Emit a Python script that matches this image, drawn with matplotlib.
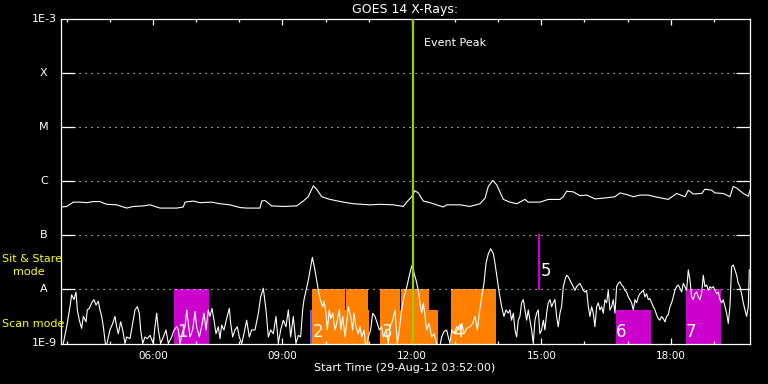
import matplotlib
matplotlib.use("Agg")
import matplotlib.pyplot as plt
import numpy as np
from matplotlib.ticker import FixedLocator, NullLocator, FixedFormatter

START_HOUR = 3 + 52 / 60.0   # 29-Aug-12 03:52:00
SPAN_MIN = 958.3

# ---- GOES long channel (1-8 A): (minutes since start, log10 flux)
long_channel = [
    (0, -6.48), (7.9, -6.47), (17.1, -6.39), (26.4, -6.39), (35.7, -6.40), (44.9, -6.38),
    (54.2, -6.38), (63.6, -6.43), (77.5, -6.44), (91.4, -6.50), (100.6, -6.47), (114.5, -6.46),
    (123.8, -6.44), (137.7, -6.50), (160.9, -6.50), (170.1, -6.48), (172.5, -6.39), (184.0, -6.37),
    (193.3, -6.40), (209.6, -6.39), (221.1, -6.42), (235.0, -6.44), (249.0, -6.49), (258.3, -6.50),
    (276.8, -6.50), (279.1, -6.37), (283.7, -6.36), (293.0, -6.46), (309.2, -6.47), (327.8, -6.46),
    (337.0, -6.37), (343.9, -6.29), (350.9, -6.09), (355.6, -6.15), (362.6, -6.29), (374.1, -6.34),
    (392.6, -6.39), (406.5, -6.42), (429.8, -6.44), (443.7, -6.43), (462.2, -6.44), (476.1, -6.47),
    (480.8, -6.39), (487.8, -6.29), (492.3, -6.18), (496.9, -6.22), (503.9, -6.37), (513.2, -6.40),
    (522.5, -6.44), (531.7, -6.48), (536.4, -6.44), (554.9, -6.44), (568.8, -6.47), (582.7, -6.42),
    (589.7, -6.32), (594.3, -6.10), (600.4, -5.99), (606.0, -6.07), (615.2, -6.34), (624.5, -6.39),
    (633.8, -6.42), (645.3, -6.34), (649.9, -6.39), (666.2, -6.39), (677.7, -6.34), (694.0, -6.34),
    (698.6, -6.29), (703.3, -6.19), (712.5, -6.20), (721.8, -6.27), (731.1, -6.26), (742.7, -6.33),
    (759.0, -6.31), (770.5, -6.29), (777.5, -6.22), (786.8, -6.25), (796.0, -6.29), (805.3, -6.26),
    (816.8, -6.26), (826.1, -6.29), (844.6, -6.34), (856.3, -6.23), (867.9, -6.29), (872.5, -6.17),
    (879.4, -6.24), (891.1, -6.23), (895.7, -6.15), (905.0, -6.17), (909.6, -6.22), (921.1, -6.23),
    (930.4, -6.29), (935.0, -6.10), (939.8, -6.13), (949.0, -6.23), (955.9, -6.28), (958.3, -6.17),
]

# ---- GOES short channel (0.5-4 A), three stretches
short_morning = [
    (0, -9.1), (3.2, -9.0), (7.9, -8.69), (12.5, -8.32), (14.8, -8.10), (18.1, -8.19), (20.9, -8.05),
    (22.7, -8.38), (25.5, -8.57), (28.7, -8.72), (31.1, -8.50), (34.8, -8.60), (36.6, -8.38),
    (39.4, -8.35), (42.7, -8.25), (45.9, -8.19), (48.7, -8.29), (51.9, -8.22), (54.2, -8.38),
    (56.6, -8.50), (58.9, -8.69), (62.6, -9.1), (65.8, -8.88), (68.1, -8.75), (71.9, -8.63),
    (75.1, -8.50), (77.4, -8.69), (79.7, -8.82), (83.0, -8.60), (85.8, -8.75), (89.0, -9.0),
    (91.3, -8.88), (96.0, -8.91), (99.7, -8.63), (102.9, -8.38), (106.2, -8.32), (108.9, -8.44),
    (110.8, -8.75), (113.6, -9.0), (116.8, -8.88), (120.1, -8.91), (123.8, -8.85), (128.4, -9.0),
    (130.7, -8.69), (133.1, -8.44), (135.4, -8.75), (138.6, -9.0), (142.3, -8.88), (146.0, -8.75),
    (149.3, -9.0), (153.9, -8.88), (157.2, -8.75), (160.9, -8.69), (163.2, -8.75), (165.5, -9.0),
    (169.2, -8.78), (172.5, -8.69), (174.8, -8.38), (177.1, -8.63), (179.4, -8.88), (183.1, -8.75),
    (186.4, -8.41), (188.7, -8.69), (192.4, -8.88), (195.6, -8.69), (198.9, -8.44), (201.7, -8.75),
    (204.9, -8.38), (207.2, -8.50), (210.0, -8.35), (212.8, -8.57), (215.6, -8.82), (218.8, -8.69),
    (221.1, -8.91), (223.5, -8.66), (226.7, -8.75), (230.4, -8.54), (234.1, -8.35), (236.0, -8.63),
    (238.8, -8.88), (242.0, -8.75), (245.2, -8.69), (248.0, -8.88), (251.3, -9.0), (254.5, -8.82),
    (258.2, -8.57), (261.9, -8.88), (265.2, -8.75), (269.8, -8.75), (274.5, -8.44), (277.7, -8.14),
    (281.4, -7.98), (285.1, -8.38), (288.4, -8.88), (291.6, -8.75), (295.3, -8.82), (299.0, -8.50),
    (302.3, -9.0), (305.5, -8.75), (309.2, -8.57), (312.9, -8.69), (316.2, -8.38), (319.4, -8.88),
    (323.1, -8.50), (326.8, -9.0), (330.1, -8.85),
]
short_midday = [
    (333.3, -8.88), (336.1, -8.38), (338.0, -8.19), (340.8, -8.02), (344.0, -7.83), (347.3, -7.58),
    (349.6, -7.41), (352.3, -7.58), (355.6, -7.83), (357.9, -8.02), (361.2, -8.22), (363.9, -8.32),
    (365.8, -8.22), (368.6, -8.44), (370.4, -8.75), (373.2, -8.38), (375.1, -8.54), (377.9, -8.44),
    (381.1, -8.75), (383.4, -8.63), (387.1, -8.38), (389.4, -8.75), (391.8, -8.50), (395.0, -8.88),
    (397.3, -8.63), (399.6, -8.32), (402.9, -8.50), (405.7, -8.75), (407.5, -8.44), (410.3, -8.69),
    (413.5, -8.82), (415.9, -8.69), (418.2, -8.88), (421.4, -8.75), (424.2, -9.1), (427.5, -8.88),
    (430.7, -8.75), (433.5, -8.44), (436.7, -8.50), (440.0, -8.63), (442.8, -8.75), (446.0, -8.69),
    (448.3, -8.88), (452.0, -8.75), (455.3, -9.0), (457.6, -8.69), (461.3, -8.57), (464.5, -8.38),
    (467.8, -9.0), (470.6, -8.75), (473.8, -8.38), (477.1, -8.14), (479.8, -8.02), (483.1, -7.83),
    (486.3, -7.64), (488.6, -7.55), (491.0, -7.70), (493.8, -7.83), (497.0, -8.02), (499.3, -8.25),
    (501.6, -8.44), (504.0, -8.25), (506.3, -8.50), (508.6, -8.75), (511.8, -8.63), (515.5, -8.88),
    (518.8, -8.82), (522.5, -9.0), (526.2, -9.1), (529.4, -8.88), (532.7, -8.78), (536.4, -8.75),
    (538.7, -8.88), (541.0, -9.0), (543.4, -8.75), (546.6, -8.82), (550.3, -8.69), (554.0, -8.75),
    (557.3, -8.63), (560.5, -8.82), (564.2, -8.72), (568.9, -8.69), (572.6, -8.63), (575.8, -8.50),
    (579.1, -8.75), (581.8, -8.44), (585.1, -8.14), (588.3, -7.89), (591.1, -7.52), (594.4, -7.34),
    (597.6, -7.25), (601.3, -7.34), (603.6, -7.52), (606.9, -7.83), (609.7, -8.08), (612.9, -8.32),
]
short_evening = [
    (616.1, -8.50), (618.9, -8.38), (622.1, -8.44), (624.4, -8.38), (626.7, -8.57), (629.1, -8.44),
    (631.4, -8.75), (633.7, -8.88), (636.0, -8.57), (638.3, -8.50), (640.6, -8.25), (643.0, -8.19),
    (645.3, -8.38), (647.6, -8.57), (649.9, -8.38), (652.2, -8.57), (654.6, -8.75), (656.9, -9.0),
    (659.2, -8.57), (661.5, -8.44), (663.8, -8.38), (666.1, -8.82), (668.5, -8.75), (670.8, -8.57),
    (673.1, -8.75), (675.4, -8.44), (677.7, -8.25), (680.1, -8.19), (682.4, -8.32), (684.7, -8.25),
    (687.0, -8.19), (689.3, -8.50), (691.6, -8.69), (694.0, -8.44), (696.3, -8.32), (698.6, -7.95),
    (700.9, -7.83), (703.2, -7.74), (705.6, -7.77), (707.9, -7.83), (710.2, -7.89), (712.5, -7.95),
    (714.8, -8.02), (717.1, -7.95), (719.5, -7.92), (721.8, -7.89), (724.1, -7.95), (726.4, -8.02),
    (728.7, -8.05), (731.1, -8.02), (733.4, -8.32), (735.7, -8.50), (738.0, -8.32), (740.3, -8.44),
    (742.6, -8.69), (745.0, -8.32), (747.3, -8.25), (749.6, -8.38), (751.9, -8.32), (754.2, -8.44),
    (756.6, -8.19), (758.9, -8.25), (761.2, -8.02), (763.5, -8.38), (765.8, -8.32), (768.1, -8.19),
    (770.5, -8.44), (772.8, -7.95), (775.1, -7.89), (777.4, -7.86), (779.7, -7.92), (782.0, -7.95),
    (784.4, -8.02), (786.7, -8.05), (789.0, -8.14), (791.3, -8.19), (793.6, -8.25), (796.0, -8.38),
    (798.3, -8.19), (800.6, -8.25), (802.9, -8.14), (805.2, -8.08), (807.6, -8.05), (809.9, -8.02),
    (812.2, -8.14), (814.5, -8.08), (816.8, -8.19), (819.1, -8.17), (821.5, -8.25), (823.8, -8.32),
    (826.1, -8.38), (828.4, -8.47), (830.7, -8.54), (833.0, -8.57), (835.4, -8.50), (837.7, -8.54),
    (840.0, -8.60), (842.3, -8.50), (844.6, -8.47), (847.0, -8.32), (849.3, -8.25), (851.6, -8.14),
    (853.9, -8.02), (856.2, -7.95), (858.5, -7.92), (860.9, -7.98), (863.2, -8.05), (865.5, -7.89),
    (867.8, -7.95), (870.1, -8.02), (872.5, -7.64), (874.8, -7.83), (877.1, -8.14), (879.4, -8.19),
    (881.7, -8.08), (884.0, -8.05), (886.4, -8.14), (888.7, -8.19), (891.0, -8.08), (893.3, -7.74),
    (895.6, -7.95), (898.0, -7.92), (900.3, -8.02), (902.6, -7.95), (904.9, -7.98), (907.2, -7.95),
    (909.5, -8.02), (911.9, -8.08), (914.2, -8.05), (916.5, -8.19), (918.8, -8.25), (921.1, -8.19),
    (923.5, -8.32), (925.8, -8.44), (928.1, -8.63), (930.4, -8.32), (932.7, -7.58), (935.0, -7.55),
    (937.4, -7.64), (939.7, -7.74), (942.0, -7.89), (944.3, -7.95), (946.6, -8.08), (949.0, -8.25),
    (951.3, -8.38), (953.6, -8.50), (955.9, -8.32), (957.3, -7.64),
]

# ---- observation blocks (minutes since start, log10 top)
scan_start = [349.1, 396.4, 349.1, 443.7, 472.9, 443.7, 542.4]
scan_end = [395.0, 427.0, 428.4, 471.5, 511.8, 524.3, 605.0]
scan_top = [-8, -8, -8.38, -8, -8, -8.38, -8]
sit_start = [157.2, 771.9, 869.3]
sit_end = [205.8, 820.6, 917.9]
sit_top = [-8, -8.38, -8]
blue_start = [346.3]
blue_end = [349.1]
blue_top = [-8.38]
sit_line_min = 664.8
sit_line_range = (-8, -7)
obs_labels = ['1', '2', '3', '4', '5', '6', '7']
obs_label_min = [161.0, 350.5, 446.0, 545.0, 667.6, 772.0, 869.3]
obs_label_log = [-8.79, -8.79, -8.79, -8.79, -7.66, -8.79, -8.79]
event_peak_min = 489.6

level_logs = [-9, -8, -7, -6, -5, -4, -3]
level_names = ['1E-9', 'A', 'B', 'C', 'M', 'X', '1E-3']
major_hours = [6, 9, 12, 15, 18]
major_labels = ['06:00', '09:00', '12:00', '15:00', '18:00']
minor_hours = list(range(4, 20))


def to_hour(m):
    return START_HOUR + np.asarray(m, dtype=float) / 60.0


W, H = 768, 384
fig = plt.figure(figsize=(W / 100, H / 100), dpi=100, facecolor='black')
ax = fig.add_axes([61 / W, (H - 343.5) / H, 689 / W, 325 / H])
ax.set_facecolor('black')
ax.set_yscale('log')
ax.set_ylim(1e-9, 1e-3)
ax.set_xlim(START_HOUR, START_HOUR + SPAN_MIN / 60.0)

for s in ax.spines.values():
    s.set_color('white')
    s.set_linewidth(0.9)


def draw_blocks(starts, ends, tops, color):
    st = to_hour(starts)
    en = to_hour(ends)
    ax.bar(st, 10.0 ** np.asarray(tops) - 1e-9, width=en - st, bottom=1e-9,
           align='edge', color=color, linewidth=0, zorder=1)


draw_blocks(scan_start, scan_end, scan_top, '#FF8000')
draw_blocks(sit_start, sit_end, sit_top, '#CC00CC')
draw_blocks(blue_start, blue_end, blue_top, '#5A5AFF')

# dotted level lines
for lv in level_logs[1:-1]:
    ax.axhline(10.0 ** lv, color='white', lw=0.8, linestyle=(0, (1, 4.4)), zorder=2)

# curves
for seg in [long_channel, short_morning + short_midday + short_evening]:
    arr = np.array(seg)
    ax.plot(to_hour(arr[:, 0]), 10.0 ** arr[:, 1], color='white', lw=0.8, zorder=3)

# sit & stare marker 5
ax.plot([to_hour(sit_line_min)] * 2, [10.0 ** sit_line_range[0], 10.0 ** sit_line_range[1]],
        color='#CC00CC', lw=1.6, zorder=3)

# event peak
ax.axvline(to_hour(event_peak_min), color='#9ACD00', lw=1.6, zorder=4)
ax.text(to_hour(event_peak_min + 15.3), 10.0 ** -3.45, 'Event Peak', color='white',
        fontsize=8, ha='left', va='center', zorder=5)

for lab, m, lv in zip(obs_labels, obs_label_min, obs_label_log):
    ax.text(to_hour(m), 10.0 ** lv, lab, color='white', fontsize=12, ha='left', va='center', zorder=5)

# y axis
ax.yaxis.set_major_locator(FixedLocator([10.0 ** v for v in level_logs[1:-1]]))
ax.yaxis.set_minor_locator(NullLocator())
ax.tick_params(axis='y', which='major', direction='in', length=10, width=0.9, color='white',
               left=True, right=True, labelleft=False)
ytr = ax.get_yaxis_transform()
for lv, name in zip(level_logs, level_names):
    ax.text(-0.0247, 10.0 ** lv, name, transform=ytr, ha='center', va='center',
            color='white', fontsize=8)

# x axis
ax.xaxis.set_major_locator(FixedLocator(major_hours))
ax.xaxis.set_major_formatter(FixedFormatter(major_labels))
ax.xaxis.set_minor_locator(FixedLocator(minor_hours))
ax.tick_params(axis='x', which='major', direction='in', length=4, width=0.9, color='white',
               top=True, bottom=True, labelcolor='white', labelsize=7.5, pad=5.5)
ax.tick_params(axis='x', which='minor', direction='in', length=2.2, width=0.9, color='white',
               top=True, bottom=True)

fig.text(405 / W, 1 - 10 / H, 'GOES 14 X-Rays:', ha='center', va='center', color='white', fontsize=9)
fig.text(405 / W, 1 - 368 / H, 'Start Time (29-Aug-12 03:52:00)', ha='center', va='center',
         color='white', fontsize=8)
fig.text(2 / W, 1 - 259 / H, 'Sit & Stare', ha='left', va='center', color='yellow', fontsize=8)
fig.text(13 / W, 1 - 272 / H, 'mode', ha='left', va='center', color='yellow', fontsize=8)
fig.text(2 / W, 1 - 324 / H, 'Scan mode', ha='left', va='center', color='yellow', fontsize=8)

fig.savefig('out.png', dpi=100, facecolor='black')
